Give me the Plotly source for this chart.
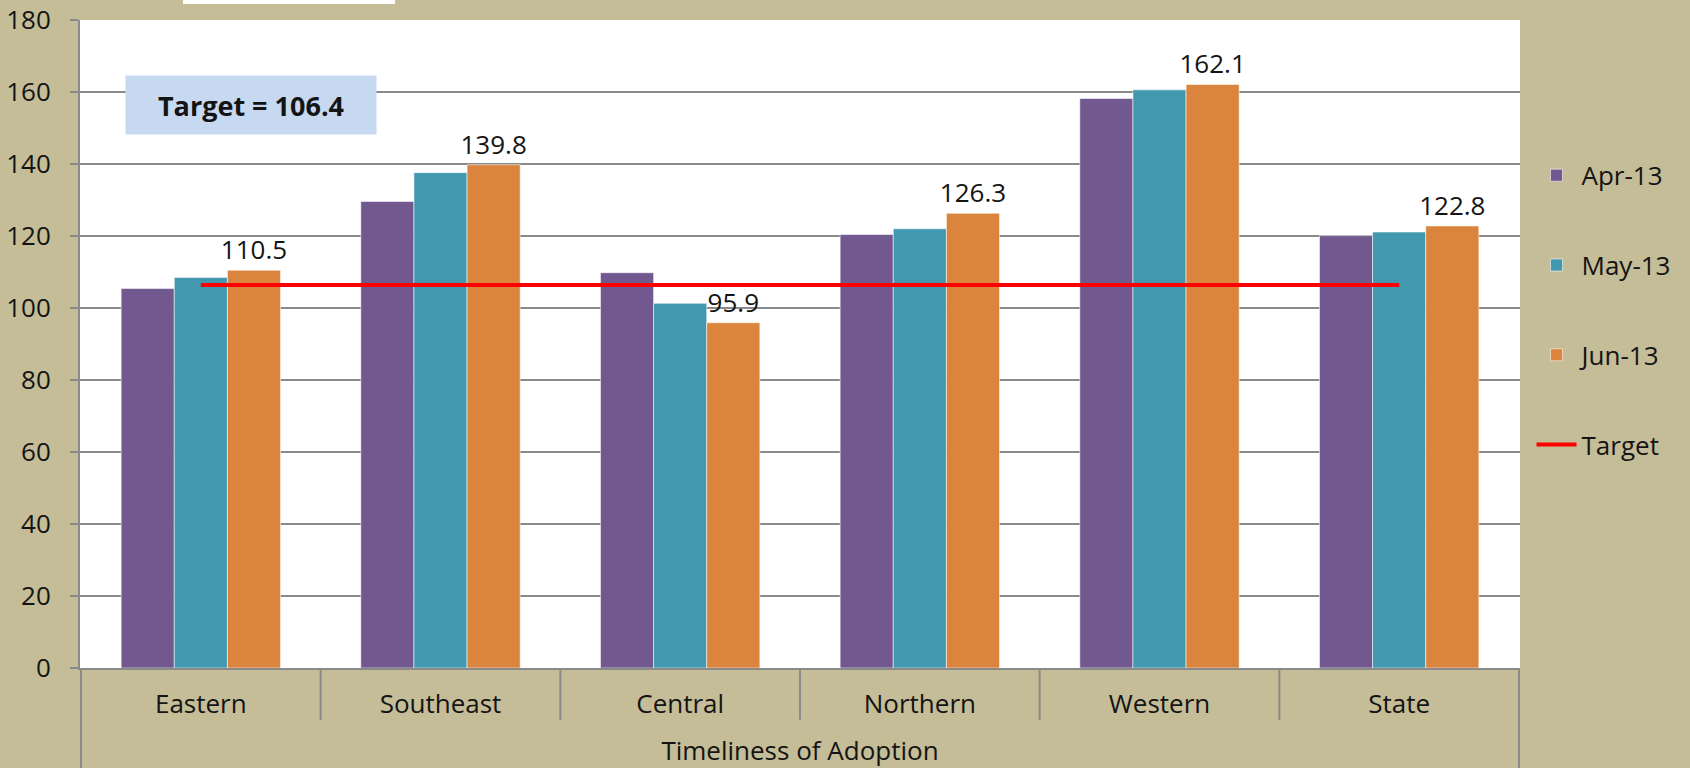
import plotly.graph_objects as go

categories = ["Eastern", "Southeast", "Central", "Northern", "Western", "State"]
apr_13 = [105.4, 129.6, 109.8, 120.4, 158.2, 120.1]
may_13 = [108.5, 137.6, 101.3, 122.0, 160.6, 121.1]
jun_13 = [110.5, 139.8, 95.9, 126.3, 162.1, 122.8]
target_value = 106.4
y_ticks = [0, 20, 40, 60, 80, 100, 120, 140, 160, 180]
axis_title = "Timeliness of Adoption"

FONT = "Open Sans"
FS = 26
TXT = "#141414"
GRID = "#8A8A8A"

fig = go.Figure()
series = [("Apr-13", apr_13, "#71588F"), ("May-13", may_13, "#4198AF"), ("Jun-13", jun_13, "#DB843D")]
for name, vals, col in series:
    labelled = name == "Jun-13"
    fig.add_trace(go.Bar(
        name=name, x=categories, y=vals, legendgroup=name,
        marker=dict(color=col, line=dict(color="rgba(255,255,255,0.55)", width=1)),
        text=[f"{v:.1f}" for v in vals] if labelled else None,
        textposition="outside" if labelled else "none",
        textfont=dict(family=FONT, size=FS, color=TXT),
        constraintext="none",
        cliponaxis=False,
    ))

fig.add_trace(go.Scatter(
    name="Target", x=categories, y=[target_value] * len(categories), legendgroup="Target",
    mode="lines", line=dict(color="#FF0000", width=4),
))

shapes = []
n = len(categories)
for i in range(n + 1):
    edge = i == 0 or i == n
    shapes.append(dict(type="line", xref="x", yref="paper", x0=i - 0.5, x1=i - 0.5,
                       y0=0, y1=-0.16 if edge else -0.08,
                       line=dict(color=GRID, width=2), layer="above"))
# cropped white title box at top
shapes.append(dict(type="rect", xref="paper", yref="paper", x0=0.0715, x1=0.2188,
                   y0=1.0247, y1=1.06, fillcolor="white", line=dict(width=0), layer="above"))

fig.update_layout(
    width=1690, height=768,
    paper_bgcolor="#C4BD97", plot_bgcolor="white",
    margin=dict(l=80, r=170, t=20, b=100, autoexpand=False),
    barmode="group", bargap=0.335, bargroupgap=0,
    font=dict(family=FONT, size=FS, color=TXT),
    showlegend=True,
    legend=dict(x=1.008, xanchor="left", y=0.552, yanchor="middle",
                bgcolor="rgba(0,0,0,0)", tracegroupgap=53,
                font=dict(family=FONT, size=FS, color=TXT), itemwidth=40),
    shapes=shapes,
    annotations=[dict(
        text="<b>Target = 106.4</b>", xref="paper", yref="paper", x=0.119, y=0.869,
        xanchor="center", yanchor="middle", showarrow=False,
        bgcolor="#C6D9F1", width=242, height=50, borderpad=4,
        font=dict(family=FONT, size=27, color=TXT),
    )],
)
fig.update_yaxes(range=[0, 180], tickvals=y_ticks, showgrid=True, gridcolor=GRID, gridwidth=1.5,
                 showline=True, linecolor=GRID, linewidth=2, ticks="outside", ticklen=8,
                 tickcolor=GRID, tickwidth=2, ticklabelstandoff=14, zeroline=False, automargin=False,
                 tickfont=dict(family=FONT, size=FS, color=TXT))
fig.update_xaxes(showline=True, linecolor=GRID, linewidth=2, ticks="", showgrid=False, automargin=False,
                 tickfont=dict(family=FONT, size=FS, color=TXT), ticklabelstandoff=12,
                 title=dict(text=axis_title, standoff=22, font=dict(family=FONT, size=FS, color=TXT)))

fig.write_html("out.html", config={"displayModeBar": False},
               post_script="document.body.style.margin='0';")
